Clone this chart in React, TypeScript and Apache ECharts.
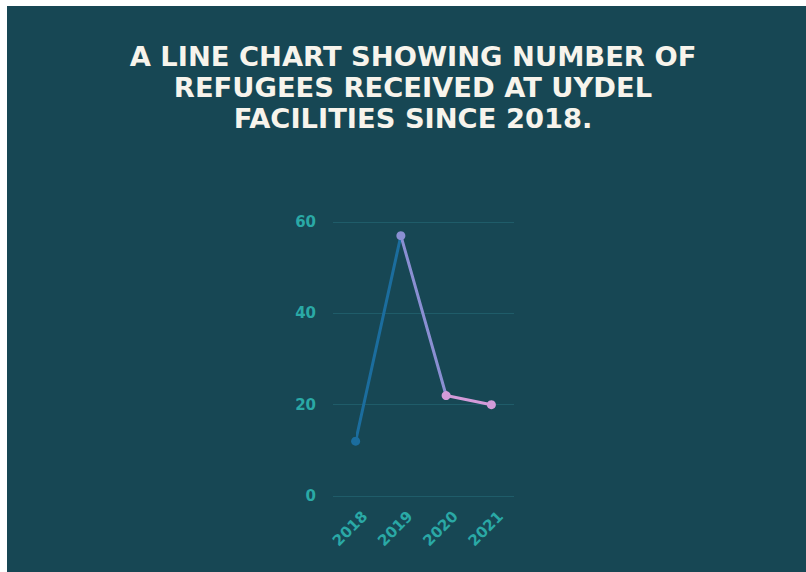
import React, { useEffect, useRef } from "react";
import * as echarts from "echarts";

const titleLines = [
  "A LINE CHART SHOWING NUMBER OF",
  "REFUGEES RECEIVED AT UYDEL",
  "FACILITIES SINCE 2018.",
];
const years = ["2018", "2019", "2020", "2021"];
const refugees = [12, 57, 22, 20];
const yTicks = { min: 0, max: 60, interval: 20 };
const segmentColors = ["#1b6d9e", "#8a8fd2", "#d39bd9"];

export default function App() {
  const ref = useRef<HTMLDivElement>(null);
  useEffect(() => {
    if (!ref.current) return;
    const chart = echarts.init(ref.current, undefined, { renderer: "svg" });
    chart.setOption({
      animation: false,
      backgroundColor: "#ffffff",
      graphic: [
        {
          type: "rect",
          z: -10,
          shape: { x: 7, y: 6, width: 799, height: 566 },
          style: { fill: "#174754" },
          silent: true,
        },
        {
          type: "text",
          x: 413,
          y: 41,
          scaleX: 1.06,
          style: {
            text: titleLines.join("\n"),
            fill: "#f7f4ec",
            fontFamily: "DejaVu Sans",
            fontWeight: 700,
            fontSize: 25.8,
            lineHeight: 31,
            align: "center",
            verticalAlign: "top",
          },
        },
      ],
      grid: { left: 333, right: 292, top: 222, bottom: 76 },
      xAxis: {
        type: "category",
        data: years,
        boundaryGap: true,
        axisLine: { show: false },
        axisTick: { show: false },
        axisLabel: {
          rotate: 45,
          margin: 27,
          align: "center",
          verticalAlign: "middle",
          padding: [0, 16, 0, 0],
          color: "#2aa9a6",
          fontFamily: "DejaVu Sans",
          fontWeight: 700,
          fontSize: 15,
        },
      },
      yAxis: {
        type: "value",
        min: yTicks.min,
        max: yTicks.max,
        interval: yTicks.interval,
        axisLine: { show: false },
        axisTick: { show: false },
        splitLine: { lineStyle: { color: "#1f5c69", width: 1 } },
        axisLabel: {
          margin: 17,
          color: "#2aa9a6",
          fontFamily: "DejaVu Sans",
          fontWeight: 700,
          fontSize: 15,
        },
      },
      visualMap: {
        show: false,
        type: "piecewise",
        dimension: 0,
        pieces: [
          { gte: 0, lt: 1, color: segmentColors[0] },
          { gte: 1, lt: 2, color: segmentColors[1] },
          { gte: 2, lte: 3, color: segmentColors[2] },
        ],
      },
      series: [
        {
          type: "line",
          data: refugees,
          symbol: "circle",
          symbolSize: 9,
          lineStyle: { width: 3 },
        },
      ],
    });
    return () => chart.dispose();
  }, []);
  return (
    <div
      ref={ref}
      style={{ position: "fixed", left: 0, top: 0, width: 806, height: 572 }}
    />
  );
}
